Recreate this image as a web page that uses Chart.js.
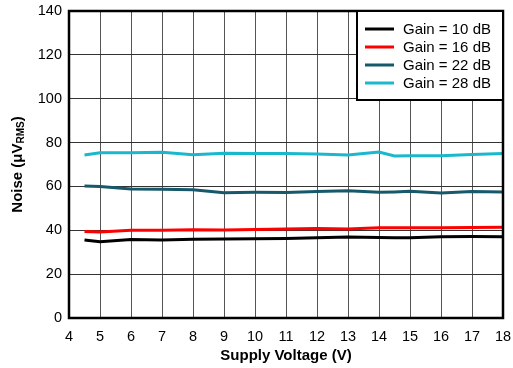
<!DOCTYPE html>
<html lang="en">
<head>
    <meta charset="UTF-8">
    <title>Noise vs Supply Voltage</title>
    <script src="https://cdn.jsdelivr.net/npm/chart.js"></script>
    <style>
        html, body { margin: 0; padding: 0; background: #fff; }
        #wrap { width: 513px; height: 368px; }
    </style>
</head>
<body>
    <div id="wrap"><canvas id="noiseChart" width="513" height="368"></canvas></div>
    <script>
        // Data
        var voltages = [4.5, 5, 6, 7, 8, 9, 10, 11, 12, 13, 14, 14.5, 15, 16, 17, 18];
        var gain10 = [35.6, 34.8, 35.8, 35.6, 35.9, 36.0, 36.1, 36.2, 36.6, 36.9, 36.7, 36.6, 36.6, 37.1, 37.2, 37.1];
        var gain16 = [39.5, 39.2, 40.0, 40.0, 40.3, 40.1, 40.4, 40.6, 40.8, 40.6, 41.2, 41.1, 41.1, 41.2, 41.3, 41.4];
        var gain22 = [60.2, 60.0, 58.8, 58.7, 58.5, 57.1, 57.3, 57.2, 57.7, 58.0, 57.3, 57.5, 57.8, 57.0, 57.7, 57.5];
        var gain28 = [74.3, 75.4, 75.4, 75.6, 74.5, 75.1, 75.0, 75.0, 74.8, 74.3, 75.7, 73.9, 74.0, 74.0, 74.6, 75.0];
        var seriesLabels = ['Gain = 10 dB', 'Gain = 16 dB', 'Gain = 22 dB', 'Gain = 28 dB'];
        var seriesColors = ['#000000', '#ff0000', '#17596b', '#1ab8cc'];

        var FONT = '"Liberation Sans", Arial, Helvetica, sans-serif';

        function toPoints(ys) {
            return voltages.map(function (v, i) { return { x: v, y: ys[i] }; });
        }

        var allSeries = [gain10, gain16, gain22, gain28];
        var datasets = allSeries.map(function (ys, i) {
            return {
                label: seriesLabels[i],
                data: toPoints(ys),
                borderColor: seriesColors[i],
                backgroundColor: seriesColors[i],
                borderWidth: 3,
                pointRadius: 0,
                tension: 0
            };
        });

        // frame, legend box and y-axis title with subscript
        var extras = {
            id: 'extras',
            afterDraw: function (chart) {
                var ctx = chart.ctx;
                var a = chart.chartArea;
                ctx.save();
                ctx.strokeStyle = '#000';
                ctx.lineWidth = 2.5;
                ctx.strokeRect(a.left, a.top, a.right - a.left, a.bottom - a.top);

                // legend
                var bw = 146, bh = 89;
                var bx = a.right - bw, by = a.top;
                ctx.fillStyle = '#fff';
                ctx.fillRect(bx, by, bw, bh);
                ctx.lineWidth = 2;
                ctx.strokeRect(bx, by, bw, bh);
                ctx.font = '15px ' + FONT;
                ctx.textBaseline = 'middle';
                for (var i = 0; i < seriesLabels.length; i++) {
                    var ly = by + 18 + i * 18;
                    ctx.strokeStyle = seriesColors[i];
                    ctx.lineWidth = 3;
                    ctx.beginPath();
                    ctx.moveTo(bx + 8, ly);
                    ctx.lineTo(bx + 37, ly);
                    ctx.stroke();
                    ctx.fillStyle = '#000';
                    ctx.fillText(seriesLabels[i], bx + 46, ly + 1);
                }

                // y-axis title
                var cy = (a.top + a.bottom) / 2;
                ctx.translate(18, cy);
                ctx.rotate(-Math.PI / 2);
                ctx.fillStyle = '#000';
                ctx.textBaseline = 'middle';
                var main = 'Noise (\u03bcV';
                var sub = 'RMS';
                var tail = ')';
                ctx.font = 'bold 15px ' + FONT;
                var w1 = ctx.measureText(main).width;
                var w3 = ctx.measureText(tail).width;
                ctx.font = 'bold 10px ' + FONT;
                var w2 = ctx.measureText(sub).width;
                var x0 = -(w1 + w2 + w3) / 2;
                ctx.font = 'bold 15px ' + FONT;
                ctx.fillText(main, x0, 0);
                ctx.font = 'bold 10px ' + FONT;
                ctx.fillText(sub, x0 + w1, 3);
                ctx.font = 'bold 15px ' + FONT;
                ctx.fillText(tail, x0 + w1 + w2, 0);
                ctx.restore();
            }
        };

        var ctx = document.getElementById('noiseChart').getContext('2d');
        var noiseChart = new Chart(ctx, {
            type: 'line',
            data: { datasets: datasets },
            options: {
                responsive: false,
                animation: false,
                layout: { padding: { left: 0, right: 10, top: 11, bottom: 0 } },
                plugins: {
                    legend: { display: false },
                    tooltip: { enabled: false }
                },
                scales: {
                    x: {
                        type: 'linear',
                        min: 4,
                        max: 18,
                        border: { display: false },
                        grid: { color: '#555', lineWidth: 1, drawTicks: false },
                        afterFit: function (scale) {
                            scale.height = 50;
                            scale.paddingLeft = 0;
                            scale.paddingRight = 0;
                        },
                        ticks: {
                            stepSize: 1,
                            color: '#000',
                            padding: 10,
                            maxRotation: 0,
                            font: { family: FONT, size: 14.5 }
                        },
                        title: {
                            display: true,
                            text: 'Supply Voltage (V)',
                            color: '#000',
                            padding: { top: 0, bottom: 3 },
                            font: { family: FONT, size: 15, weight: 'bold' }
                        }
                    },
                    y: {
                        min: 0,
                        max: 140,
                        border: { display: false },
                        grid: { color: '#333', lineWidth: 1, drawTicks: false },
                        afterFit: function (scale) {
                            scale.width = 69;
                            scale.paddingTop = 0;
                            scale.paddingBottom = 0;
                        },
                        ticks: {
                            stepSize: 20,
                            color: '#000',
                            padding: 7,
                            font: { family: FONT, size: 14.5 }
                        }
                    }
                }
            },
            plugins: [extras]
        });
    </script>
</body>
</html>
